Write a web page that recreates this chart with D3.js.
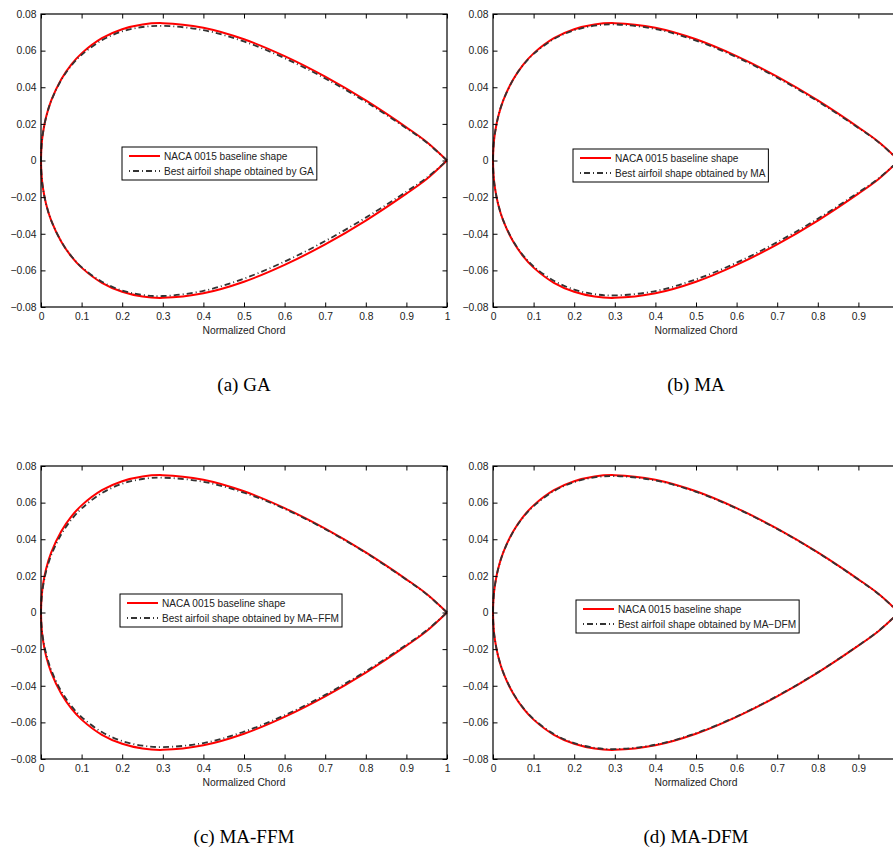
<!DOCTYPE html>
<html>
<head>
<meta charset="utf-8">
<script src="https://cdn.jsdelivr.net/npm/d3@7"></script>
<style>
  body { margin: 0; background: #fff; }
  svg { display: block; }
  .tick text { font-family: "Liberation Sans", Arial, sans-serif; font-size: 10.3px; fill: #222; }
</style>
</head>
<body>
<svg id="fig" width="893" height="853"></svg>
<script>
/* chord stations shared by all the profiles */
const chordX = [0, 0.002, 0.005, 0.0125, 0.025, 0.05, 0.075, 0.1, 0.15, 0.2, 0.25, 0.3,
  0.4, 0.5, 0.6, 0.7, 0.8, 0.9, 0.95, 1.0];

/* NACA 0015 baseline (symmetric) */
const nacaUpper = [0, 0.0098, 0.0153, 0.0237, 0.0327, 0.0444, 0.0525, 0.0585, 0.0668, 0.0717,
  0.0743, 0.0750, 0.0725, 0.0662, 0.0570, 0.0458, 0.0328, 0.0181, 0.0101, 0];
const nacaLower = [0, -0.0098, -0.0153, -0.0237, -0.0327, -0.0444, -0.0525, -0.0585, -0.0668,
  -0.0717, -0.0743, -0.0750, -0.0725, -0.0662, -0.0570, -0.0458, -0.0328, -0.0181, -0.0101, 0];

/* best shapes */
const gaUpper = [0, 0.0098, 0.0153, 0.0236, 0.0325, 0.0440, 0.0519, 0.0577, 0.0657, 0.0705,
  0.0729, 0.0735, 0.0712, 0.0650, 0.0559, 0.0448, 0.0320, 0.0176, 0.0098, 0];
const gaLower = [0, -0.0098, -0.0153, -0.0237, -0.0327, -0.0443, -0.0523, -0.0582, -0.0662,
  -0.0710, -0.0734, -0.0740, -0.0712, -0.0645, -0.0552, -0.0440, -0.0312, -0.0170, -0.0094, 0];

const maUpper = [0, 0.0098, 0.0153, 0.0237, 0.0327, 0.0443, 0.0523, 0.0582, 0.0663, 0.0711,
  0.0736, 0.0743, 0.0718, 0.0655, 0.0564, 0.0452, 0.0323, 0.0178, 0.0099, 0];
const maLower = [0, -0.0098, -0.0153, -0.0237, -0.0326, -0.0441, -0.0520, -0.0578, -0.0657,
  -0.0705, -0.0730, -0.0737, -0.0713, -0.0649, -0.0558, -0.0446, -0.0318, -0.0174, -0.0097, 0];

const ffmUpper = [0, 0.0090, 0.0142, 0.0224, 0.0312, 0.0427, 0.0508, 0.0568, 0.0652, 0.0703,
  0.0729, 0.0736, 0.0714, 0.0654, 0.0566, 0.0455, 0.0326, 0.0179, 0.0099, 0];
const ffmLower = [0, -0.0090, -0.0142, -0.0224, -0.0313, -0.0430, -0.0511, -0.0571, -0.0653,
  -0.0702, -0.0727, -0.0735, -0.0713, -0.0651, -0.0561, -0.0450, -0.0321, -0.0176, -0.0097, 0];

const dfmUpper = [0, 0.0098, 0.0153, 0.0236, 0.0326, 0.0442, 0.0522, 0.0581, 0.0663, 0.0712,
  0.0738, 0.0745, 0.0721, 0.0659, 0.0568, 0.0456, 0.0327, 0.0180, 0.0100, 0];
const dfmLower = [0, -0.0098, -0.0153, -0.0236, -0.0326, -0.0442, -0.0522, -0.0582, -0.0664,
  -0.0713, -0.0739, -0.0746, -0.0722, -0.0659, -0.0568, -0.0456, -0.0327, -0.0180, -0.0100, 0];

/* ticks */
const xTickValues = [0, 0.1, 0.2, 0.3, 0.4, 0.5, 0.6, 0.7, 0.8, 0.9, 1];
const xTickLabels = ['0', '0.1', '0.2', '0.3', '0.4', '0.5', '0.6', '0.7', '0.8', '0.9', '1'];
const yTickValues = [-0.08, -0.06, -0.04, -0.02, 0, 0.02, 0.04, 0.06, 0.08];
const yTickLabels = ['\u22120.08', '\u22120.06', '\u22120.04', '\u22120.02', '0', '0.02', '0.04', '0.06', '0.08'];

const baselineLabel = 'NACA 0015 baseline shape';
const methods = ['GA', 'MA', 'MA\u2212FFM', 'MA\u2212DFM'];
const captions = ['(a) GA', '(b) MA', '(c) MA-FFM', '(d) MA-DFM'];
const bestUpper = [gaUpper, maUpper, ffmUpper, dfmUpper];
const bestLower = [gaLower, maLower, ffmLower, dfmLower];

/* layout (pixels) */
const figW = 893;
const figH = 853;
const plotW = 406;
const plotH = 293;
const panelOrigin = [[41, 14], [493, 14], [41, 466], [493, 466]];
const legendPos = [[81, 133], [80, 135], [79, 128], [83, 134]];

const svg = d3.select('#fig');
svg.append('rect').attr('width', figW).attr('height', figH).attr('fill', '#fff');

function contour(upper, lower) {
  const pts = [];
  for (let i = chordX.length - 1; i >= 0; i -= 1) pts.push([chordX[i], upper[i]]);
  for (let i = 1; i < chordX.length; i += 1) pts.push([chordX[i], lower[i]]);
  return pts;
}

function drawPanel(k) {
  const [ox, oy] = panelOrigin[k];
  const g = svg.append('g').attr('transform', `translate(${ox},${oy})`);

  const x = d3.scaleLinear().domain([0, 1]).range([0, plotW]);
  const y = d3.scaleLinear().domain([-0.08, 0.08]).range([plotH, 0]);

  const line = d3.line()
    .x((d) => x(d[0]))
    .y((d) => y(d[1]))
    .curve(d3.curveCatmullRom.alpha(0.5));

  /* curves */
  g.append('path')
    .attr('d', line(contour(nacaUpper, nacaLower)))
    .attr('fill', 'none')
    .attr('stroke', '#ff0000')
    .attr('stroke-width', 2);
  g.append('path')
    .attr('d', line(contour(bestUpper[k], bestLower[k])))
    .attr('fill', 'none')
    .attr('stroke', '#333')
    .attr('stroke-width', 1.8)
    .attr('stroke-dasharray', '6 3 1 3');

  /* axes, ticks pointing inward on all four sides */
  // the right-hand panels run past the page edge, so drop labels that would be cut
  const xFmt = (d, i) => (ox + x(d) + 4 > figW ? '' : xTickLabels[i]);
  const yFmt = (d, i) => yTickLabels[i];
  g.append('g').attr('transform', `translate(0,${plotH})`)
    .call(d3.axisBottom(x).tickValues(xTickValues).tickFormat(xFmt)
      .tickSizeInner(-4.5).tickSizeOuter(0).tickPadding(6));
  g.append('g')
    .call(d3.axisTop(x).tickValues(xTickValues).tickFormat('')
      .tickSizeInner(-4.5).tickSizeOuter(0));
  g.append('g')
    .call(d3.axisLeft(y).tickValues(yTickValues).tickFormat(yFmt)
      .tickSizeInner(-4.5).tickSizeOuter(0).tickPadding(4.5));
  g.append('g').attr('transform', `translate(${plotW},0)`)
    .call(d3.axisRight(y).tickValues(yTickValues).tickFormat('')
      .tickSizeInner(-4.5).tickSizeOuter(0));
  g.selectAll('.domain').remove();
  g.selectAll('.tick line').attr('stroke', '#000');

  g.append('rect')
    .attr('width', plotW).attr('height', plotH)
    .attr('fill', 'none').attr('stroke', '#000').attr('stroke-width', 1.2);

  g.append('text')
    .attr('x', plotW / 2).attr('y', plotH + 27)
    .attr('text-anchor', 'middle')
    .style('font-family', '"Liberation Sans", Arial, sans-serif')
    .style('font-size', '10.3px')
    .attr('fill', '#222')
    .text('Normalized Chord');

  /* legend */
  const [lx, ly] = legendPos[k];
  const lg = g.append('g').attr('transform', `translate(${lx},${ly})`);
  const box = lg.append('rect').attr('height', 33)
    .attr('fill', '#fff').attr('stroke', '#000').attr('stroke-width', 1);
  const labels = [baselineLabel, `Best airfoil shape obtained by ${methods[k]}`];
  let maxW = 0;
  labels.forEach((txt, i) => {
    const cy = 9 + i * 15;
    const s = lg.append('line').attr('x1', 7).attr('x2', 38).attr('y1', cy).attr('y2', cy);
    if (i === 0) {
      s.attr('stroke', '#ff0000').attr('stroke-width', 2);
    } else {
      s.attr('stroke', '#333').attr('stroke-width', 1.8).attr('stroke-dasharray', '1 3 6 3');
    }
    const t = lg.append('text')
      .attr('x', 42).attr('y', cy + 3.6)
      .style('font-family', '"Liberation Sans", Arial, sans-serif')
      .style('font-size', '10.1px')
      .attr('fill', '#222')
      .text(txt);
    maxW = Math.max(maxW, t.node().getComputedTextLength());
  });
  box.attr('width', 42 + maxW + 3);

  /* caption under the panel */
  svg.append('text')
    .attr('x', ox + plotW / 2).attr('y', oy + plotH + 84)
    .attr('text-anchor', 'middle')
    .style('font-family', '"Liberation Serif", "Times New Roman", serif')
    .style('font-size', '19px')
    .attr('fill', '#000')
    .text(captions[k]);
}

[0, 1, 2, 3].forEach(drawPanel);
</script>
</body>
</html>
